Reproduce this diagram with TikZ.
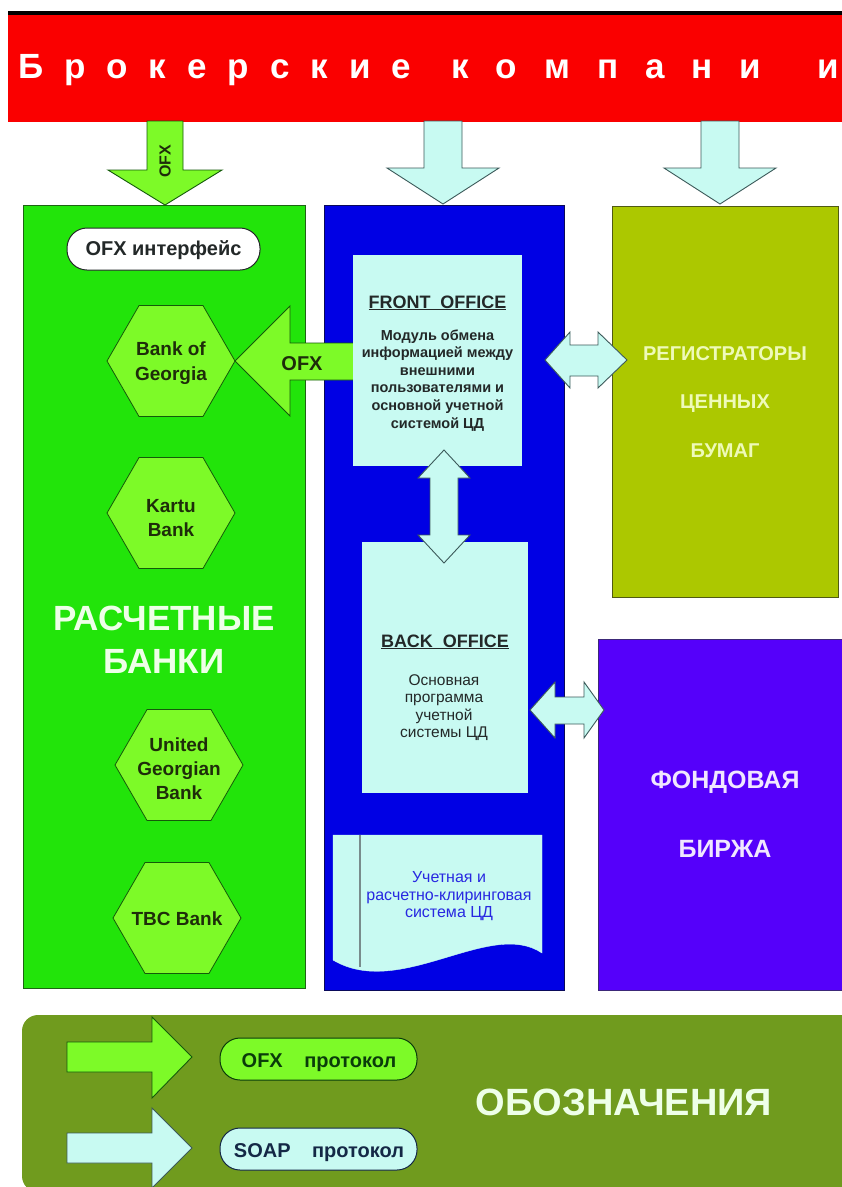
\documentclass[tikz,border=0pt]{standalone}
\usepackage{fontspec}
\setmainfont{Liberation Sans}
\usetikzlibrary{shapes.geometric}

\definecolor{bred}{RGB}{250,0,0}
\definecolor{gbox}{RGB}{34,228,10}
\definecolor{gline}{RGB}{30,100,20}
\definecolor{hexgreen}{RGB}{125,250,40}
\definecolor{hexline}{RGB}{20,90,10}
\definecolor{hextext}{RGB}{30,45,10}
\definecolor{cyanfill}{RGB}{200,250,242}
\definecolor{cyanline}{RGB}{60,90,90}
\definecolor{bbox}{RGB}{0,0,228}
\definecolor{bline}{RGB}{10,10,90}
\definecolor{obox}{RGB}{172,200,0}
\definecolor{oline}{RGB}{80,90,20}
\definecolor{pbox}{RGB}{85,0,250}
\definecolor{pline}{RGB}{60,40,120}
\definecolor{lgbox}{RGB}{112,155,30}
\definecolor{paletext}{RGB}{238,255,232}
\definecolor{yeltext}{RGB}{238,250,185}
\definecolor{lavtext}{RGB}{240,230,255}
\definecolor{fotext}{RGB}{35,40,40}
\definecolor{doctext}{RGB}{40,40,225}
\definecolor{doclinegray}{RGB}{120,140,140}
\definecolor{ofxtext}{RGB}{10,60,10}
\definecolor{soaptext}{RGB}{20,40,70}

\newcommand\gA{\hspace{21pt}}
\newcommand\gB{\hspace{27pt}}

\tikzset{
  every node/.style={inner sep=0pt, outer sep=0pt},
  panel/.style={rectangle, line width=1pt},
  hexa/.style={regular polygon, regular polygon sides=6, minimum size=128pt,
    fill=hexgreen, draw=hexline, line width=0.8pt},
  hexlbl/.style={anchor=base, text=hextext, font=\bfseries\fontsize{19}{23}\selectfont},
  bigtitle/.style={anchor=base, font=\bfseries\fontsize{35}{40}\selectfont, text=paletext},
  regtitle/.style={anchor=base, font=\bfseries\fontsize{20}{24}\selectfont, text=yeltext},
  fondtitle/.style={anchor=base, font=\bfseries\fontsize{25}{30}\selectfont, text=lavtext},
  officetitle/.style={anchor=base, font=\bfseries\fontsize{18}{22}\selectfont, text=fotext},
  folbl/.style={anchor=base, font=\bfseries\fontsize{14.5}{17}\selectfont, text=fotext},
  bolbl/.style={anchor=base, font=\fontsize{15.5}{18}\selectfont, text=fotext},
  doclbl/.style={anchor=base, font=\fontsize{16}{18}\selectfont, text=doctext},
  pill/.style={rectangle, rounded corners=20pt, line width=1pt, minimum height=42pt},
  pilltext/.style={anchor=base, font=\bfseries\fontsize{20}{24}\selectfont},
  ofxarrow/.style={fill=hexgreen, draw=hexline, line width=0.9pt, line join=miter},
  soaparrow/.style={fill=cyanfill, draw=cyanline, line width=0.9pt, line join=miter},
  arrowlbl/.style={font=\bfseries\fontsize{20}{24}\selectfont, text=hextext},
}

\begin{document}
\begin{tikzpicture}[x=1pt, y=-1pt]
\useasboundingbox (0,0) rectangle (842,1187);
\fill[white] (0,0) rectangle (842,1187);

% banner
\fill[black] (8,11) rectangle (842,16);
\node[panel, fill=bred, minimum width=842pt, minimum height=107pt] (banner) at (429,68.5) {};
\node[anchor=base west, text=white, font=\bfseries\fontsize{35}{40}\selectfont] (bannertext) at (18,78)
  {Б\gA р\gA о\gA к\gA е\gA р\gA с\gA к\gA и\gA е\hspace{40pt}к\gB о\gB м\gB п\gB а\gB н\gB и\hspace{56pt}и};

% main panels
\node[panel, fill=gbox, draw=gline, minimum width=282pt, minimum height=783pt] (banks) at (164,596.5) {};
\node[panel, fill=bbox, draw=bline, minimum width=240pt, minimum height=785pt] (cd) at (444,597.5) {};
\node[panel, fill=obox, draw=oline, minimum width=226pt, minimum height=391pt] (reg) at (725,401.5) {};
\node[panel, fill=pbox, draw=pline, minimum width=252pt, minimum height=351pt] (fond) at (724,814.5) {};

% down arrows from banner
\filldraw[ofxarrow] (147,121) -- (183,121) -- (183,170) -- (222,170) -- (165,205) -- (108,170) -- (147,170) -- cycle;
\node[rotate=90, font=\bfseries\fontsize{16}{18}\selectfont, text=hextext] (ofxdown) at (165,161) {OFX};
\filldraw[soaparrow] (424,121) -- (462,121) -- (462,168) -- (499,168) -- (443,204) -- (387,168) -- (424,168) -- cycle;
\filldraw[soaparrow] (701,121) -- (739,121) -- (739,168) -- (776,168) -- (720,204) -- (664,168) -- (701,168) -- cycle;

% left column content
\node[pill, fill=white, draw=fotext, minimum width=193pt] (ofxint) at (163.5,249) {};
\node[pilltext, text=fotext] (ofxinttext) at (163.5,255) {OFX интерфейс};

\node[hexa] (bog) at (171,361) {};
\node[hexlbl] (bog1) at (171,355) {Bank of};
\node[hexlbl] (bog2) at (171,380) {Georgia};

\node[hexa] (kartu) at (171,513) {};
\node[hexlbl] (kartu1) at (171,512) {Kartu};
\node[hexlbl] (kartu2) at (171,536) {Bank};

\node[bigtitle] (rb1) at (164,630) {РАСЧЕТНЫЕ};
\node[bigtitle] (rb2) at (164,673) {БАНКИ};

\node[hexa] (ugb) at (179,765) {};
\node[hexlbl] (ugb1) at (179,751) {United};
\node[hexlbl] (ugb2) at (179,775) {Georgian};
\node[hexlbl] (ugb3) at (179,799) {Bank};

\node[hexa] (tbc) at (177,918) {};
\node[hexlbl] (tbc1) at (177,925) {TBC Bank};

% OFX arrow from front office to Bank of Georgia
\filldraw[ofxarrow] (bog.east) -- (290,306) -- (290,343) -- (356,343) -- (356,380) -- (290,380) -- (290,416) -- cycle;
\node[arrowlbl, anchor=base] (ofxleft) at (302,370) {OFX};

% central column
\node[panel, fill=cyanfill, minimum width=169pt, minimum height=211pt, line width=0pt] (fo) at (437.5,360.5) {};
\node[officetitle] (fotitle) at (437.5,308) {\underline{FRONT\ \ OFFICE}};
\foreach \t [count=\i] in {Модуль обмена, информацией между, внешними, пользователями и, основной учетной, системой ЦД}
  \node[folbl] (fo\i) at (437.5,{340+17.6*(\i-1)}) {\t};

\node[panel, fill=cyanfill, minimum width=166pt, minimum height=251pt, line width=0pt] (bo) at (445,667.5) {};
\node[officetitle] (botitle) at (445,647) {\underline{BACK\ \ OFFICE}};
\foreach \t [count=\i] in {Основная, программа, учетной, системы ЦД}
  \node[bolbl] (bo\i) at (444,{685+17.5*(\i-1)}) {\t};

% document shape
\filldraw[fill=cyanfill, draw=cyanfill] (333,835) -- (542,835) -- (542,953)
  .. controls (490,918) and (400,1000) .. (333,960) -- cycle;
\draw[doclinegray, line width=2pt] (360,835) -- (360,967);
\node[doclbl] (doc1) at (449,882) {Учетная и};
\node[doclbl] (doc2) at (449,900) {расчетно-клиринговая};
\node[doclbl] (doc3) at (449,917) {система ЦД};

% double arrows
\filldraw[soaparrow] (545,360) -- (570,332) -- (570,345) -- (598,345) -- (598,332) -- (627,360)
  -- (598,388) -- (598,376) -- (570,376) -- (570,388) -- cycle;
\filldraw[soaparrow] (444,450) -- (470,478) -- (458,478) -- (458,535) -- (470,535) -- (444,563)
  -- (418,535) -- (430,535) -- (430,478) -- (418,478) -- cycle;
\filldraw[soaparrow] (530,710) -- (555,682) -- (555,697) -- (584,697) -- (584,682) -- (604,710)
  -- (584,738) -- (584,724) -- (555,724) -- (555,738) -- cycle;

% right column texts
\node[regtitle] (reg1) at (725,360) {РЕГИСТРАТОРЫ};
\node[regtitle] (reg2) at (725,408) {ЦЕННЫХ};
\node[regtitle] (reg3) at (725,457) {БУМАГ};
\node[fondtitle] (fond1) at (725,788) {ФОНДОВАЯ};
\node[fondtitle] (fond2) at (725,857) {БИРЖА};

% legend
\node[rectangle, rounded corners=16pt, fill=lgbox, minimum width=838pt, minimum height=177pt] (legend) at (441,1103.5) {};
\filldraw[ofxarrow] (67,1042) -- (152,1042) -- (152,1017) -- (192,1057) -- (152,1098) -- (152,1072) -- (67,1072) -- cycle;
\filldraw[soaparrow] (67,1133) -- (152,1133) -- (152,1108) -- (192,1148) -- (152,1188) -- (152,1163) -- (67,1163) -- cycle;
\node[pill, fill=hexgreen, draw=ofxtext, minimum width=197pt] (ofxpill) at (318.5,1059) {};
\node[pilltext, text=ofxtext] (ofxpilltext) at (319,1067) {OFX\hspace{16pt} протокол};
\node[pill, fill=cyanfill, draw=soaptext, minimum width=197pt] (soappill) at (318.5,1149) {};
\node[pilltext, text=soaptext] (soappilltext) at (319,1157) {SOAP\hspace{16pt} протокол};
\node[anchor=base, font=\bfseries\fontsize{38}{44}\selectfont, text=paletext] (legendtitle) at (624,1115) {ОБОЗНАЧЕНИЯ};
\end{tikzpicture}
\end{document}
